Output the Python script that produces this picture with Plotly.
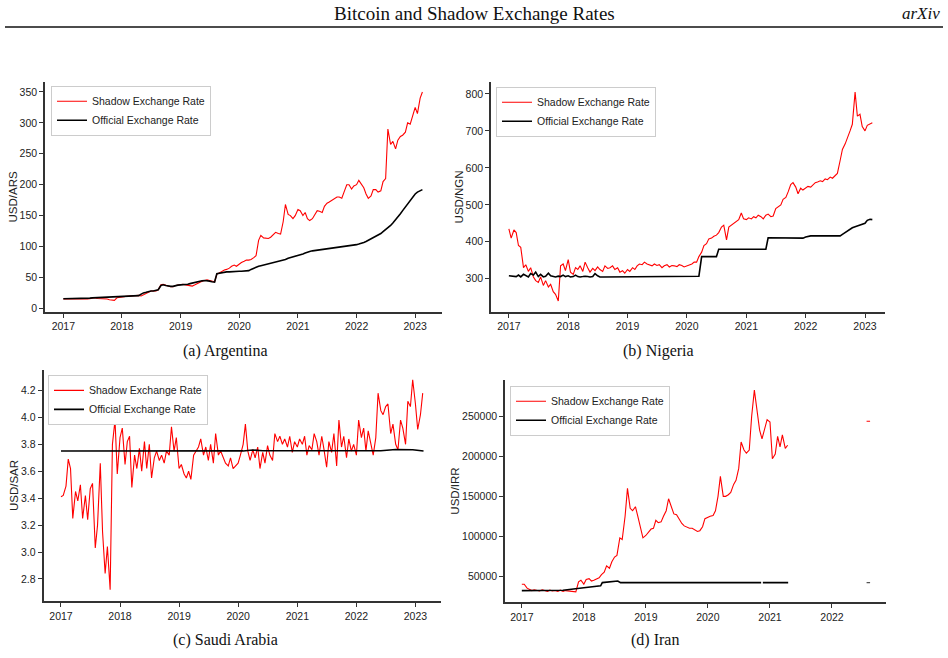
import pandas as pd
import plotly.graph_objects as go

# ---------------- data ----------------
DATES = pd.date_range("2017-01-01", "2023-02-15", freq="SMS")  # semi-monthly (1st & 15th)

ARG_SHADOW = [
    15, 15, 14.5, 14.5, 14, 14, 14, 14.5, 14, 14, 15, 15.5, 16, 17, 16, 16, 16, 15.5, 15, 14, 13.5, 13, 17, 18,
    18.5, 19, 19.5, 20, 20, 20.5, 20.5, 21, 20, 22, 25, 26, 28, 28, 28, 30, 38, 39, 37, 36, 35, 35, 37, 38,
    38, 39, 38, 37, 37, 36, 38, 40, 42, 44, 45, 46, 45, 44, 43, 55, 58, 60, 62, 63, 65, 68, 70, 68,
    72, 74, 76, 78, 78, 79, 82, 85, 110, 118, 114, 113, 113, 115, 120, 123, 121, 120, 140, 168, 152, 150, 145, 150,
    160, 158, 150, 155, 145, 142, 145, 152, 158, 157, 155, 165, 170, 172, 175, 178, 180, 180, 178, 188, 200, 200, 193, 198,
    200, 207, 200, 195, 185, 178, 182, 192, 192, 188, 190, 205, 210, 290, 265, 270, 258, 272, 278, 280, 285, 300, 298, 310,
    325, 315, 340, 350,
]
ARG_OFFICIAL = [
    15.5, 15.5, 15.5, 15.5, 15.4, 15.4, 15.5, 15.6, 15.8, 16, 16.2, 16.5, 17, 17.2, 17.3, 17.4, 17.5, 17.5, 17.4, 17.6, 17.8, 18, 18.3, 18.6,
    19, 19.5, 20, 20.2, 20.2, 20.3, 20.4, 20.5, 23, 25, 26, 27.5, 28, 28, 28.5, 30, 37, 38, 37, 36, 35.5, 35.5, 37, 37.5,
    38, 38, 38.5, 39, 40, 41, 42, 43, 44, 44.5, 45, 45, 44, 43, 42.5, 56, 57, 58, 58.5, 59, 59, 59.5, 59.5, 59.5,
    60, 60, 60, 60.5, 61, 63, 65, 67, 68, 69, 70, 71, 72, 73, 74, 75, 76, 77, 78, 79, 81, 82, 83, 84,
    85, 86.5, 88, 89.5, 91, 92, 93, 93.5, 94, 94.5, 95, 95.5, 96, 96.5, 97, 97.5, 98, 98.5, 99, 99.5, 100, 100.5, 101, 102,
    103, 104, 105, 106.5, 108, 110, 112, 114, 116, 118, 121, 124, 127, 130, 134, 138, 143, 148, 153, 158, 164, 170, 175, 181,
    185, 188, 190, 192,
]

NGN_SHADOW = [
    435, 410, 432, 425, 390, 385, 330, 338, 320, 330, 305, 295, 290, 305, 282, 295, 278, 285, 265, 258, 240, 335, 340, 322,
    352, 318, 312, 330, 325, 335, 320, 345, 330, 318, 328, 322, 332, 325, 320, 335, 328, 330, 335, 325, 330, 318, 322, 315,
    325, 320, 330, 325, 335, 340, 338, 345, 340, 338, 335, 340, 336, 338, 330, 335, 338, 332, 336, 335, 333, 338, 336, 332,
    335, 338, 340, 345, 345, 360, 372, 390, 395, 408, 410, 415, 418, 425, 440, 445, 405, 440, 445, 450, 455, 460, 478, 462,
    460, 465, 462, 468, 465, 472, 468, 462, 472, 475, 468, 470, 490, 495, 500, 515, 520, 535, 555, 560, 548, 530, 545, 540,
    545, 550, 548, 555, 560, 562, 565, 563, 570, 568, 575, 572, 580, 585, 620, 650, 665, 680, 700, 718, 805, 740, 745, 712,
    700, 715, 718, 722,
]
NGN_OFFICIAL = [
    308, 307, 305, 306, 310, 305, 312, 308, 305, 314, 310, 318, 306, 312, 305, 307, 315, 308, 306, 305, 307, 306, 310, 306,
    308, 305, 306, 310, 306, 305, 306, 307, 306, 305, 306, 314, 308, 305, 305, 305, 305, 305, 306, 306, 306, 306, 306, 306,
    306, 307, 307, 307, 307, 307, 307, 307, 307, 307, 307, 307, 307, 307, 307, 307, 307, 307, 307, 307, 307, 307, 307, 307,
    307, 307, 307, 307, 307, 307, 360, 360, 360, 360, 360, 360, 360, 380, 380, 380, 380, 380, 380, 380, 380, 380, 380, 380,
    380, 380, 380, 380, 380, 380, 380, 380, 380, 411, 411, 411, 411, 411, 411, 411, 411, 411, 411, 411, 410, 410, 410, 410,
    413, 415, 416, 416, 416, 415, 415, 415, 415, 415, 415, 415, 415, 415, 416, 420, 425, 430, 435, 438, 441, 443, 445, 447,
    450, 458, 461, 460,
]

SAR_SHADOW = [
    3.41, 3.42, 3.49, 3.69, 3.62, 3.25, 3.45, 3.38, 3.50, 3.25, 3.42, 3.24, 3.47, 3.51, 3.03, 3.20, 3.66, 3.15, 2.84, 3.04, 2.72, 3.80, 3.98, 3.58,
    3.85, 3.92, 3.65, 3.82, 3.86, 3.48, 3.72, 3.62, 3.77, 3.60, 3.82, 3.62, 3.80, 3.55, 3.70, 3.75, 3.68, 3.72, 3.66, 3.75, 3.72, 3.93, 3.75, 3.85,
    3.62, 3.65, 3.58, 3.55, 3.60, 3.54, 3.72, 3.75, 3.78, 3.84, 3.72, 3.78, 3.68, 3.80, 3.66, 3.88, 3.72, 3.75, 3.70, 3.66, 3.64, 3.70, 3.62, 3.64,
    3.66, 3.72, 3.80, 3.95, 3.75, 3.68, 3.76, 3.70, 3.78, 3.62, 3.74, 3.66, 3.79, 3.72, 3.68, 3.88, 3.82, 3.86, 3.80, 3.84, 3.78, 3.86, 3.74, 3.82,
    3.78, 3.84, 3.80, 3.86, 3.72, 3.79, 3.76, 3.88, 3.82, 3.72, 3.86, 3.76, 3.63, 3.82, 3.74, 3.88, 3.64, 3.98, 3.78, 3.86, 3.70, 3.84, 3.75, 3.80,
    3.72, 3.98, 3.85, 3.92, 3.75, 3.90, 3.80, 3.72, 3.85, 4.18, 4.05, 4.02, 4.08, 4.10, 3.88, 3.95, 3.80, 3.76, 3.98, 3.92, 3.80, 4.12, 4.08, 4.28,
    4.10, 3.91, 4.02, 4.18,
]
SAR_OFFICIAL_DATES = ["2017-01-01", "2020-02-01", "2020-04-01", "2020-06-01", "2022-06-01",
                      "2022-09-01", "2022-12-15", "2023-02-20"]
SAR_OFFICIAL = [3.75, 3.751, 3.758, 3.752, 3.752, 3.761, 3.760, 3.750]

IRR_SHADOW = [
    40000, 40000, 35000, 33000, 32000, 33000, 32000, 31500, 33000, 32000, 31000, 32500, 31500, 32000, 31000, 32500, 31000, 32000, 31500, 31000, 30500, 30500, 43000, 45000,
    40000, 46000, 47000, 44000, 45000, 46000, 48000, 52000, 55000, 63000, 60000, 68000, 74000, 76000, 98000, 96000, 125000, 160000, 135000, 132000, 137000, 125000, 110000, 98000,
    101000, 105000, 109000, 110000, 120000, 117000, 118000, 125000, 132000, 147000, 135000, 128000, 127000, 122000, 116000, 113000, 111000, 110000, 110000, 108000, 106000, 107000, 112000, 122000,
    124000, 125000, 126000, 132000, 150000, 175000, 150000, 150000, 152000, 155000, 165000, 170000, 185000, 218000, 208000, 204000, 208000, 250000, 283000, 258000, 233000, 222000, 235000, 246000,
    243000, 197000, 203000, 225000, 212000, 227000, 210000, 214000,
]
IRR_SHADOW_LATE_DATE = ["2022-08-03"]
IRR_SHADOW_LATE = [244000]
IRR_OFFICIAL_DATES = ["2017-01-01", "2017-09-01", "2018-01-01", "2018-04-10", "2018-04-20", "2018-07-20",
                      "2018-08-05", "2020-11-10", None, "2020-11-20", "2021-04-18"]
IRR_OFFICIAL = [32000, 32500, 35500, 38000, 42000, 44000, 42000, 42000, None, 42000, 42000]
IRR_OFFICIAL_LATE_DATE = ["2022-08-03"]
IRR_OFFICIAL_LATE = [42000]

YEAR_TICKS = ["2017-01-01", "2018-01-01", "2019-01-01", "2020-01-01", "2021-01-01", "2022-01-01", "2023-01-01"]
YEAR_LABELS = ["2017", "2018", "2019", "2020", "2021", "2022", "2023"]

# ---------------- figure ----------------
W, H = 948, 658
RED = "#ff0000"
BLK = "#000000"
fig = go.Figure()


def px_x(p):
    return p / W


def px_y(p):
    return 1 - p / H


panels = [
    # axis suffix, legend name, x domain px, y domain px, x range, y range, y title
    ("", "legend", (45, 442), (82, 313), ["2016-09-09", "2023-06-17"], [-6, 366.5], "USD/ARS"),
    ("2", "legend2", (491, 885), (82, 313), ["2016-09-13", "2023-05-04"], [210, 833], "USD/NGN"),
    ("3", "legend3", (43.5, 441), (371, 603), ["2016-09-15", "2023-06-08"], [2.635, 4.353], "USD/SAR"),
    ("4", "legend4", (505, 886), (381, 604), ["2016-09-24", "2022-11-15"], [17500, 295875], "USD/IRR"),
]

d = list(DATES)
series = [
    (d[:len(ARG_SHADOW)], ARG_SHADOW, d[:len(ARG_OFFICIAL)], ARG_OFFICIAL),
    (d[:len(NGN_SHADOW)], NGN_SHADOW, d[:len(NGN_OFFICIAL)], NGN_OFFICIAL),
    (d[:len(SAR_SHADOW)], SAR_SHADOW, SAR_OFFICIAL_DATES, SAR_OFFICIAL),
    (d[:len(IRR_SHADOW)], IRR_SHADOW, IRR_OFFICIAL_DATES, IRR_OFFICIAL),
]

for (suf, leg, xd, yd, xr, yr, ytitle), (sx, sy, ox, oy) in zip(panels, series):
    xa = "x" + suf
    ya = "y" + suf
    fig.add_trace(go.Scatter(x=sx, y=sy, mode="lines", name="Shadow Exchange Rate",
                             line=dict(color=RED, width=1.1), xaxis=xa, yaxis=ya, legend=leg))
    fig.add_trace(go.Scatter(x=ox, y=oy, mode="lines", name="Official Exchange Rate",
                             line=dict(color=BLK, width=1.6), xaxis=xa, yaxis=ya, legend=leg,
                             connectgaps=False))

# Iran isolated late observations
fig.add_trace(go.Scatter(x=IRR_SHADOW_LATE_DATE, y=IRR_SHADOW_LATE, mode="markers",
                         marker=dict(color=RED, size=2.5, symbol="line-ew-open",
                                     line=dict(color=RED, width=1.2)),
                         showlegend=False, xaxis="x4", yaxis="y4"))
fig.add_trace(go.Scatter(x=IRR_OFFICIAL_LATE_DATE, y=IRR_OFFICIAL_LATE, mode="markers",
                         marker=dict(color="#555", size=2.5, symbol="line-ew-open",
                                     line=dict(color="#555", width=1.2)),
                         showlegend=False, xaxis="x4", yaxis="y4"))

TICKFONT = dict(family="Liberation Sans, Arial, sans-serif", size=10.5, color="#222")
axis_common = dict(showgrid=False, zeroline=False, showline=True, linecolor="#333", linewidth=1.5,
                   ticks="outside", ticklen=4, tickwidth=1, tickcolor="#333", tickfont=TICKFONT)

layout = dict(
    width=W, height=H, margin=dict(l=0, r=0, t=0, b=0),
    paper_bgcolor="white", plot_bgcolor="white", showlegend=True,
    font=dict(family="Liberation Sans, Arial, sans-serif", color="#222"),
)
ytickfmt = {"": None, "2": None, "3": ".1f", "4": "d"}
ytickvals = {
    "": [0, 50, 100, 150, 200, 250, 300, 350],
    "2": [300, 400, 500, 600, 700, 800],
    "3": [2.8, 3.0, 3.2, 3.4, 3.6, 3.8, 4.0, 4.2],
    "4": [50000, 100000, 150000, 200000, 250000],
}
for suf, leg, xd, yd, xr, yr, ytitle in panels:
    xkey = "xaxis" + suf
    ykey = "yaxis" + suf
    xtv = YEAR_TICKS if suf != "4" else YEAR_TICKS[:-1]
    xtt = YEAR_LABELS if suf != "4" else YEAR_LABELS[:-1]
    layout[xkey] = dict(axis_common, type="date", domain=[px_x(xd[0]), px_x(xd[1])], range=xr,
                        anchor="y" + suf, tickvals=xtv, ticktext=xtt)
    ya = dict(axis_common, domain=[px_y(yd[1]), px_y(yd[0])], range=yr, anchor="x" + suf,
              tickvals=ytickvals[suf],
              title=dict(text=ytitle, font=dict(size=11.5, color="#222"), standoff=0))
    if ytickfmt[suf]:
        ya["tickformat"] = ytickfmt[suf]
    layout[ykey] = ya

legend_pos = {"legend": (51, 86), "legend2": (496, 87), "legend3": (48, 376), "legend4": (510, 387)}
for k, (lx, ly) in legend_pos.items():
    layout[k] = dict(x=px_x(lx), y=px_y(ly), xanchor="left", yanchor="top",
                     bgcolor="white", bordercolor="#cccccc", borderwidth=1,
                     font=dict(family="Liberation Sans, Arial, sans-serif", size=10.5, color="#222"),
                     itemwidth=30, tracegroupgap=0)

fig.update_layout(**layout)

SERIF = "Liberation Serif, Times New Roman, serif"
fig.add_annotation(text="Bitcoin and Shadow Exchange Rates", x=px_x(474), y=px_y(14), xref="paper", yref="paper",
                   showarrow=False, font=dict(family=SERIF, size=19, color="#111"), xanchor="center", yanchor="middle")
fig.add_annotation(text="<i>arXiv</i>", x=px_x(942), y=px_y(14), xref="paper", yref="paper",
                   showarrow=False, font=dict(family=SERIF, size=17, color="#111"), xanchor="right", yanchor="middle")
fig.add_shape(type="line", xref="paper", yref="paper", x0=px_x(5), x1=px_x(943), y0=px_y(27), y1=px_y(27),
              line=dict(color="#111", width=1.5))

captions = [("(a) Argentina", 225, 352), ("(b) Nigeria", 658, 352),
            ("(c) Saudi Arabia", 225, 642), ("(d) Iran", 655, 642)]
for t, cx, cy in captions:
    fig.add_annotation(text=t, x=px_x(cx), y=px_y(cy), xref="paper", yref="paper", showarrow=False,
                       font=dict(family=SERIF, size=16, color="#111"), xanchor="center", yanchor="middle")

fig.write_html("out.html")
